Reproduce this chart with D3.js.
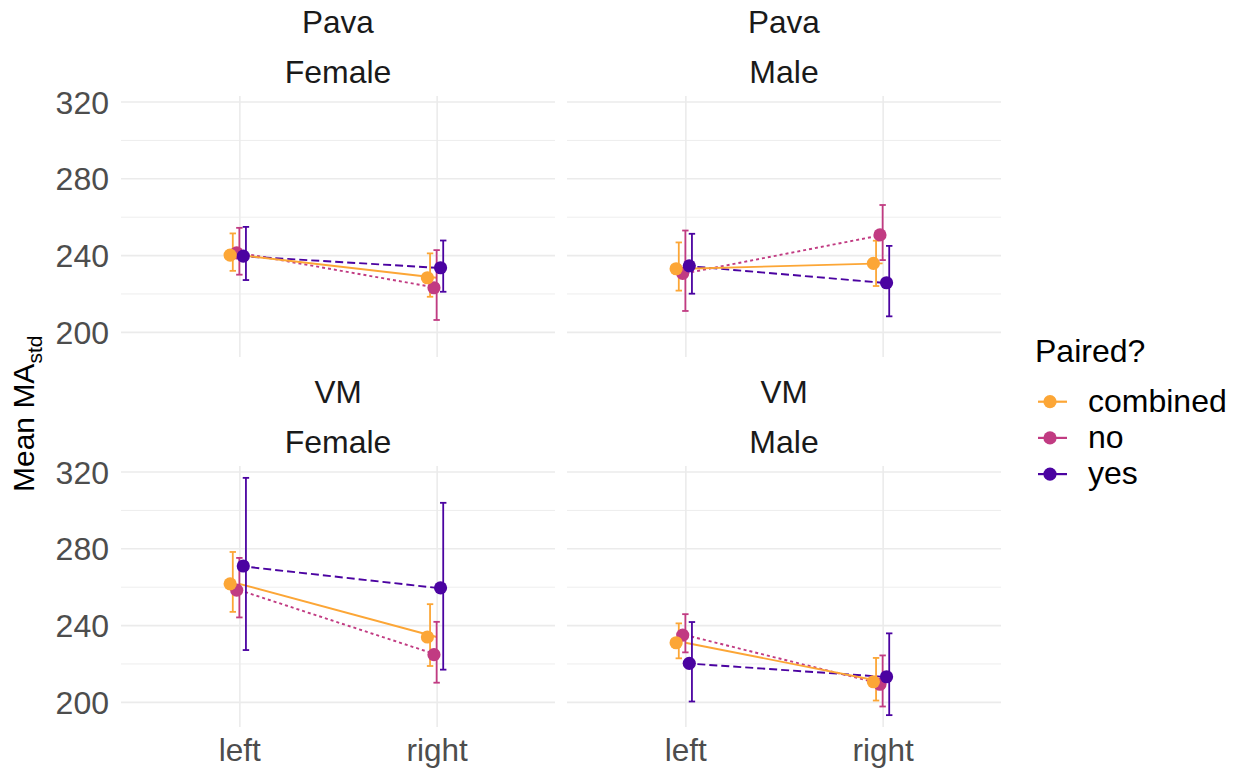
<!DOCTYPE html>
<html>
<head>
<meta charset="utf-8">
<script src="https://cdn.jsdelivr.net/npm/d3@7"></script>
<style>
body{margin:0;background:#fff}
text{font-family:"Liberation Sans",Arial,sans-serif}
</style>
</head>
<body>
<svg id="chart" width="1239" height="770"></svg>
<script>
// categories
var sides = ["left","right"];
var paired = ["combined","no","yes"];
var regions = ["Pava","VM"];
var sexes = ["Female","Male"];
var yTicks = [200,240,280,320];
var yMinor = [220,260,300];

// rows: paired, side, mean, lower, upper
var pavaFemale = [
  ["combined","left",240.0,231.8,251.3],["combined","right",228.2,218.3,240.9],
  ["no","left",241.2,229.8,254.2],["no","right",223.0,206.2,242.6],
  ["yes","left",239.5,227.0,254.7],["yes","right",233.4,220.9,247.6]
];
var pavaMale = [
  ["combined","left",232.9,221.5,246.6],["combined","right",235.7,223.9,247.5],
  ["no","left",230.5,210.9,252.8],["no","right",250.5,237.4,266.1],
  ["yes","left",234.4,219.9,251.1],["yes","right",225.6,208.1,244.8]
];
var vmFemale = [
  ["combined","left",261.5,246.9,278.1],["combined","right",233.8,218.7,250.9],
  ["no","left",258.2,244.0,275.0],["no","right",224.6,210.0,241.7],
  ["yes","left",270.8,227.0,316.7],["yes","right",259.4,216.8,303.7]
];
var vmMale = [
  ["combined","left",230.8,222.7,240.9],["combined","right",210.5,200.7,222.9],
  ["no","left",234.8,225.8,245.7],["no","right",209.2,197.6,224.2],
  ["yes","left",220.1,200.2,241.6],["yes","right",213.1,193.1,235.7]
];
var panelData = [[pavaFemale,pavaMale],[vmFemale,vmMale]];

// look
var colours = {combined:"#FCA636", no:"#C13B82", yes:"#4B03A1"};
var dashes = {combined:null, no:"3,3", yes:"8,4"};
var drawOrder = ["no","yes","combined"];
var colX = [121,567], rowY = [96,466], W = 434, H = 261;

var svg = d3.select("#chart");

// shared y range with 5% expansion like ggplot
var all = [].concat(pavaFemale,pavaMale,vmFemale,vmMale);
var lo = d3.min(all,function(d){return d[3]}), hi = d3.max(all,function(d){return d[4]});
var pad = (hi-lo)*0.05;
var yDomain = [lo-pad, hi+pad];

regions.forEach(function(reg,ri){
  sexes.forEach(function(sex,ci){
    var x0 = colX[ci], y0 = rowY[ri];
    var rows = panelData[ri][ci];
    var x = d3.scalePoint().domain(sides).range([x0,x0+W]).padding(0.6);
    var y = d3.scaleLinear().domain(yDomain).range([y0+H,y0]);
    var g = svg.append("g");

    // grid
    g.append("g").attr("transform","translate("+x0+",0)")
      .call(d3.axisLeft(y).tickValues(yMinor).tickSize(-W).tickFormat(""))
      .call(function(a){a.select(".domain").remove();a.selectAll("line").attr("stroke","#EBEBEB").attr("stroke-width",0.9)});
    g.append("g").attr("transform","translate("+x0+",0)")
      .call(d3.axisLeft(y).tickValues(yTicks).tickSize(-W).tickFormat(""))
      .call(function(a){a.select(".domain").remove();a.selectAll("line").attr("stroke","#EBEBEB").attr("stroke-width",1.6)});
    g.append("g").attr("transform","translate(0,"+y0+")")
      .call(d3.axisBottom(x).tickSize(H).tickFormat(""))
      .call(function(a){a.select(".domain").remove();a.selectAll("line").attr("stroke","#EBEBEB").attr("stroke-width",1.6)});

    // tick labels
    if(ci==0){
      g.append("g").attr("transform","translate("+x0+",0)")
        .call(d3.axisLeft(y).tickValues(yTicks).tickSize(0).tickPadding(12))
        .call(function(a){a.select(".domain").remove();
          a.selectAll("text").attr("font-size",32).attr("fill","#4D4D4D").attr("dy","0.36em")
            .style("font-family",'"Liberation Sans",Arial,sans-serif')});
    }
    if(ri==1){
      g.append("g").attr("transform","translate(0,"+(y0+H)+")")
        .call(d3.axisBottom(x).tickSize(0).tickPadding(12))
        .call(function(a){a.select(".domain").remove();
          a.selectAll("text").attr("font-size",31.5).attr("fill","#4D4D4D")
            .style("font-family",'"Liberation Sans",Arial,sans-serif')});
    }

    // strip
    g.append("text").attr("x",x0+W/2).attr("y",y0-63).attr("text-anchor","middle")
      .attr("font-size",31.5).attr("fill","#1A1A1A").text(reg);
    g.append("text").attr("x",x0+W/2).attr("y",y0-13).attr("text-anchor","middle")
      .attr("font-size",32).attr("fill","#1A1A1A").text(sex);

    var step = x.step();
    function dodge(p){ return (paired.indexOf(p)-1)*0.1/3*step; }
    var line = d3.line().x(function(d){return x(d[1])}).y(function(d){return y(d[2])});

    drawOrder.forEach(function(p){
      var s = rows.filter(function(d){return d[0]==p});
      g.append("path").datum(s).attr("d",line).attr("fill","none")
        .attr("stroke",colours[p]).attr("stroke-width",1.9)
        .attr("stroke-dasharray",dashes[p]);
    });
    drawOrder.forEach(function(p){
      var s = rows.filter(function(d){return d[0]==p});
      var eb = g.append("g").attr("stroke",colours[p]).attr("stroke-width",1.8);
      s.forEach(function(d){
        var xe = x(d[1])+dodge(p);
        eb.append("line").attr("x1",xe).attr("x2",xe).attr("y1",y(d[3])).attr("y2",y(d[4]));
        eb.append("line").attr("x1",xe-3.2).attr("x2",xe+3.2).attr("y1",y(d[3])).attr("y2",y(d[3]));
        eb.append("line").attr("x1",xe-3.2).attr("x2",xe+3.2).attr("y1",y(d[4])).attr("y2",y(d[4]));
      });
    });
    drawOrder.forEach(function(p){
      var s = rows.filter(function(d){return d[0]==p});
      g.selectAll(null).data(s).enter().append("circle")
        .attr("cx",function(d){return x(d[1])+dodge(p)-0.0135*step})
        .attr("cy",function(d){return y(d[2])})
        .attr("r",6.6).attr("fill",colours[p]);
    });
  });
});

// y title
var yt = svg.append("text").attr("transform","translate(33.5,492) rotate(-90)")
  .attr("font-size",30).attr("fill","#000");
yt.append("tspan").text("Mean MA");
yt.append("tspan").attr("font-size",21).attr("dy",8).text("std");

// legend
var lg = svg.append("g");
lg.append("text").attr("x",1035).attr("y",362).attr("font-size",32).attr("fill","#000").text("Paired?");
paired.forEach(function(p,i){
  var ly = 401.7+i*36.2;
  lg.append("line").attr("x1",1038).attr("x2",1067).attr("y1",ly).attr("y2",ly)
    .attr("stroke",colours[p]).attr("stroke-width",2.2);
  lg.append("circle").attr("cx",1050).attr("cy",ly).attr("r",6.6).attr("fill",colours[p]);
  lg.append("text").attr("x",1088).attr("y",ly+10).attr("font-size",32).attr("fill","#000").text(p);
});
</script>
</body>
</html>
